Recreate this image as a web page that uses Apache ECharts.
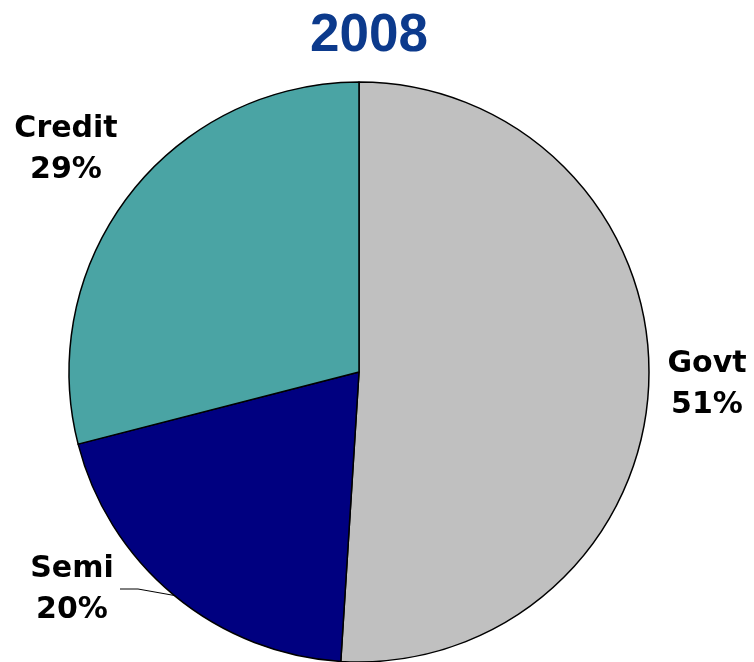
<!DOCTYPE html>
<html><head><meta charset="utf-8">
<script src="https://cdn.jsdelivr.net/npm/echarts@6/dist/echarts.min.js"></script>
<style>html,body{margin:0;padding:0;background:#fff}#c{width:754px;height:662px}</style>
</head><body><div id="c"></div>
<script>
const titleText = '2008';
const categories = ['Govt', 'Semi', 'Credit'];
const values = [51, 20, 29];
const colors = ['#C0C0C0', '#000080', '#4AA4A4'];

const center = [359, 372];
const radius = 290;
const labelCenters = { Govt: [707, 385], Semi: [72, 590], Credit: [66, 150] };

const total = values.reduce((a, b) => a + b, 0);
function midAngle(i) { // clockwise from top, degrees
  let s = 0; for (let k = 0; k < i; k++) s += values[k];
  return (s + values[i] / 2) / total * 360;
}

const chart = echarts.init(document.getElementById('c'), null, { renderer: 'canvas' });
chart.setOption({
  animation: false,
  title: {
    text: titleText, left: 305, top: 5,
    textStyle: { fontFamily: '"Liberation Sans", Arial, sans-serif', fontWeight: 'bold', fontSize: 53, color: '#0C3A8C' }
  },
  series: [{
    type: 'pie',
    center: center,
    radius: radius,
    startAngle: 90,
    clockwise: true,
    data: categories.map((c, i) => ({
      name: c, value: values[i],
      itemStyle: { color: colors[i] },
      labelLine: { show: c === 'Semi' }
    })),
    itemStyle: { borderColor: '#000', borderWidth: 1.5 },
    label: {
      show: true, position: 'outside', overflow: 'none', width: 200,
      formatter: '{b}\n{c}%',
      fontFamily: 'DejaVu Sans', fontWeight: 'bold', fontSize: 30, lineHeight: 41,
      color: '#000', align: 'center'
    },
    labelLine: { lineStyle: { color: '#000', width: 1 }, length: 10, length2: 10 },
    emphasis: { disabled: true }
  }]
});
chart.setOption({
  series: [{
    labelLayout: function (p) {
      const name = categories[p.dataIndex];
      const lc = labelCenters[name];
      const res = { x: lc[0], y: lc[1], align: 'center', verticalAlign: 'middle' };
      if (name === 'Semi') {
        const a = midAngle(p.dataIndex) * Math.PI / 180;
        const edge = [center[0] + radius * Math.sin(a), center[1] - radius * Math.cos(a)];
        const right = lc[0] + 48;
        res.labelLinePoints = [edge, [right + 18, lc[1] - 1], [right, lc[1] - 1]];
      }
      return res;
    }
  }]
});
</script></body></html>
